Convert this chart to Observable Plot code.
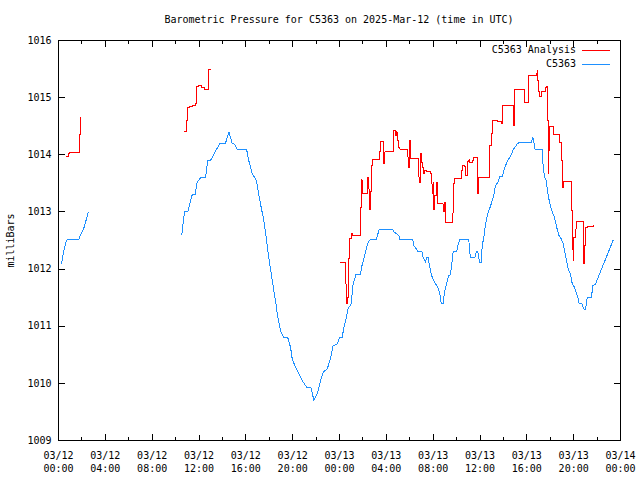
<!DOCTYPE html>
<html><head><meta charset="utf-8">
<script src="https://cdn.jsdelivr.net/npm/d3@7"></script>
<script src="https://cdn.jsdelivr.net/npm/@observablehq/plot@0.6"></script>
<style>
body{margin:0;background:#fff;}
#wrap{position:relative;width:640px;height:480px;font-family:"DejaVu Sans Mono",monospace;font-size:10px;color:#000;}
#title{position:absolute;left:58px;width:562px;top:14px;line-height:12px;text-align:center;white-space:pre;}
.leg{position:absolute;right:30px;height:12px;line-height:12px;display:flex;align-items:center;white-space:pre;}
.leg .sw{display:inline-block;width:28px;height:1px;margin-left:6px;}
svg{position:absolute;left:0;top:0;}
</style></head>
<body><div id="wrap"><div id="title"></div></div>
<script>
const titleText = "Barometric Pressure for C5363 on 2025-Mar-12 (time in UTC)";
const yLabel = "milliBars";
const seriesNames = ["C5363 Analysis", "C5363"];
const seriesColors = ["#ff0000", "#1e90ff"];
const xMajorTicks = [0,4,8,12,16,20,24,28,32,36,40,44,48];
const xMinorTicks = [2,6,10,14,18,22,26,30,34,38,42,46];
const xTickLabels = ["03/12\n00:00","03/12\n04:00","03/12\n08:00","03/12\n12:00","03/12\n16:00","03/12\n20:00","03/13\n00:00","03/13\n04:00","03/13\n08:00","03/13\n12:00","03/13\n16:00","03/13\n20:00","03/14\n00:00"];
const yTicks = [1009,1010,1011,1012,1013,1014,1015,1016];

// hours since 03/12 00:00 UTC, millibars
const stationSeg1 = [[0.26,1012.1],[0.43,1012.3],[0.6,1012.45],[0.77,1012.52],[1.73,1012.52],[1.88,1012.6],[2.14,1012.7],[2.35,1012.85],[2.54,1013.0]];
const stationSeg2 = [[10.53,1012.6],[10.76,1013.0],[11.04,1013.0],[11.42,1013.3],[11.70,1013.3],[11.79,1013.5],[12.13,1013.6],[12.56,1013.6],[12.75,1013.9],[12.98,1013.9],[13.78,1014.2],[14.26,1014.2],[14.55,1014.4],[14.84,1014.2],[15.06,1014.18],[15.26,1014.1],[16.06,1014.1],[16.25,1013.9],[16.54,1013.67],[16.91,1013.55],[17.11,1013.3],[17.31,1013.08],[17.54,1012.85],[17.74,1012.56],[17.91,1012.27],[18.11,1012.0],[18.30,1011.74],[18.53,1011.45],[18.73,1011.16],[18.96,1010.92],[19.24,1010.8],[19.58,1010.8],[19.82,1010.63],[19.96,1010.43],[20.24,1010.28],[20.52,1010.17],[20.81,1010.05],[21.24,1009.92],[21.58,1009.92],[21.81,1009.7],[22.10,1009.82],[22.38,1010.05],[22.61,1010.2],[22.95,1010.25],[23.23,1010.43],[23.46,1010.66],[23.80,1010.69],[24.0,1010.8],[24.23,1010.8],[24.37,1010.98],[24.60,1011.16],[24.71,1011.3],[25.0,1011.39],[25.14,1011.71],[25.39,1011.9],[25.79,1011.9],[25.88,1012.03],[26.08,1012.18],[26.31,1012.38],[26.45,1012.47],[26.65,1012.52],[27.16,1012.52],[27.39,1012.7],[28.55,1012.7],[28.64,1012.65],[29.07,1012.59],[29.15,1012.52],[30.26,1012.52],[30.35,1012.41],[30.58,1012.35],[30.69,1012.3],[31.06,1012.3],[31.15,1012.2],[31.35,1012.12],[31.43,1012.2],[31.58,1012.2],[31.71,1012.03],[31.86,1011.89],[32.11,1011.77],[32.34,1011.7],[32.54,1011.6],[32.69,1011.4],[32.86,1011.4],[32.97,1011.6],[33.2,1011.79],[33.34,1011.89],[33.48,1011.9],[33.71,1012.3],[34.0,1012.3],[34.10,1012.41],[34.28,1012.52],[35.04,1012.52],[35.13,1012.3],[35.19,1012.2],[35.56,1012.2],[35.68,1012.3],[35.81,1012.3],[35.90,1012.2],[35.98,1012.11],[36.10,1012.11],[36.19,1012.41],[36.33,1012.56],[36.41,1012.7],[36.56,1012.87],[36.70,1013.0],[36.90,1013.1],[37.04,1013.2],[37.18,1013.3],[37.32,1013.46],[37.52,1013.52],[37.69,1013.62],[37.90,1013.62],[38.03,1013.72],[38.18,1013.81],[38.38,1013.9],[38.67,1014.0],[38.84,1014.09],[38.95,1014.12],[39.18,1014.19],[39.37,1014.22],[40.40,1014.22],[40.51,1014.31],[40.60,1014.22],[40.68,1014.1],[41.30,1014.1],[41.36,1013.87],[41.51,1013.61],[41.66,1013.55],[41.74,1013.4],[41.88,1013.23],[42.02,1013.11],[42.17,1013.0],[42.30,1012.94],[42.45,1012.82],[42.59,1012.7],[42.73,1012.59],[42.94,1012.53],[43.11,1012.44],[43.24,1012.3],[43.39,1012.15],[43.53,1012.0],[43.73,1011.92],[43.88,1011.74],[44.07,1011.68],[44.24,1011.57],[44.39,1011.48],[44.47,1011.39],[44.73,1011.39],[44.86,1011.3],[45.01,1011.3],[45.16,1011.5],[45.52,1011.5],[45.63,1011.71],[45.87,1011.74],[47.38,1012.51]];

const analysisSeg1 = [[0.68,1013.97],[0.83,1014.03],[0.97,1014.04],[1.82,1014.35],[1.90,1014.65]];
const analysisSeg2 = [[10.79,1014.41],[10.91,1014.6],[10.99,1014.82],[11.19,1014.85],[11.42,1014.87],[11.70,1014.89],[11.79,1015.19],[11.99,1015.21],[12.21,1015.18],[12.47,1015.15],[12.70,1015.14],[12.79,1015.29],[12.84,1015.49],[12.98,1015.5]];
const analysisSeg3 = [[24.09,1012.11],[24.54,1011.74],[24.57,1011.39],[24.68,1011.5],[24.77,1012.18],[24.85,1012.53],[25.0,1012.63],[25.14,1012.59],[25.79,1013.07],[25.85,1013.56],[25.94,1013.46],[25.97,1013.33],[26.42,1013.61],[26.50,1013.4],[26.59,1013.04],[26.65,1013.35],[26.73,1013.81],[26.85,1013.92],[27.44,1014.06],[27.50,1014.23],[27.73,1014.03],[27.78,1013.84],[27.87,1014.05],[28.64,1014.42],[28.78,1014.34],[28.87,1014.4],[28.93,1014.25],[29.01,1014.12],[29.15,1014.1],[29.36,1014.09],[29.83,1013.96],[29.92,1013.78],[30.01,1014.25],[30.06,1013.93],[30.77,1013.61],[30.86,1013.52],[30.92,1014.03],[31.0,1013.87],[31.06,1013.78],[31.15,1013.67],[31.29,1013.72],[31.41,1013.7],[31.77,1013.68],[31.83,1013.49],[31.92,1013.33],[32.0,1013.52],[32.06,1013.04],[32.14,1013.29],[32.29,1013.52],[32.34,1013.14],[32.86,1013.02],[32.91,1013.0],[32.97,1013.17],[33.03,1012.82],[33.63,1012.98],[33.71,1013.49],[33.85,1013.58],[34.42,1013.72],[34.53,1013.81],[34.68,1013.8],[34.76,1013.64],[34.91,1013.89],[35.04,1013.91],[35.13,1013.87],[35.33,1013.9],[35.42,1013.95],[35.81,1013.32],[35.90,1013.61],[36.84,1014.16],[36.96,1014.37],[37.04,1014.6],[37.47,1014.58],[37.84,1014.54],[37.95,1014.86],[38.84,1014.72],[38.89,1014.51],[38.95,1015.15],[39.80,1014.92],[40.17,1015.39],[40.83,1015.42],[40.89,1015.47],[40.94,1015.3],[41.02,1015.1],[41.11,1015.02],[41.23,1015.1],[41.40,1015.11],[41.60,1015.18],[41.68,1015.19],[41.74,1014.6],[41.83,1013.67],[41.88,1014.07],[41.96,1014.5],[42.25,1014.35],[42.82,1014.22],[42.94,1013.9],[43.02,1013.55],[43.07,1013.42],[43.16,1013.53],[43.79,1013.02],[43.88,1012.35],[43.97,1012.15],[44.01,1012.56],[44.16,1012.7],[44.22,1012.83],[44.82,1012.27],[44.87,1012.09],[44.92,1012.41],[45.01,1012.73],[45.16,1012.74],[45.72,1012.76]];

const stationSegments = [stationSeg1, stationSeg2];
const analysisSegments = [analysisSeg1, analysisSeg2, analysisSeg3];

const toRows = (segs) => segs.flatMap((s, k) => s.map(([h, v]) => ({h, v, seg: k})));
const stationRows = toRows(stationSegments);
const analysisRows = toRows(analysisSegments);

const tickShape = {draw(ctx, l) { ctx.moveTo(0, 0); ctx.lineTo(0, -l); }};
const tickOpts = {shape: tickShape, anchor: "start", stroke: "black", strokeWidth: 1};

const chart = Plot.plot({
  width: 640, height: 480,
  marginLeft: 58, marginRight: 20, marginTop: 40, marginBottom: 40,
  style: {fontFamily: "'DejaVu Sans Mono', monospace", fontSize: "10px", background: "transparent", color: "black", overflow: "visible"},
  x: {domain: [0, 48]},
  y: {domain: [1009, 1016]},
  marks: [
    Plot.vector(xMajorTicks, {...tickOpts, x: d => d, frameAnchor: "bottom", length: 6, rotate: 0}),
    Plot.vector(xMinorTicks, {...tickOpts, x: d => d, frameAnchor: "bottom", length: 3, rotate: 0}),
    Plot.vector(xMajorTicks, {...tickOpts, x: d => d, frameAnchor: "top", length: 6, rotate: 180}),
    Plot.vector(xMinorTicks, {...tickOpts, x: d => d, frameAnchor: "top", length: 3, rotate: 180}),
    Plot.vector(yTicks, {...tickOpts, y: d => d, frameAnchor: "left", length: 6, rotate: 90}),
    Plot.vector(yTicks, {...tickOpts, y: d => d, frameAnchor: "right", length: 6, rotate: -90}),
    Plot.line(stationRows, {x: "h", y: "v", z: "seg", stroke: seriesColors[1], strokeWidth: 1, curve: "linear"}),
    Plot.line(analysisRows, {x: "h", y: "v", z: "seg", stroke: seriesColors[0], strokeWidth: 1, curve: "step-after"}),
    Plot.axisX({ticks: xMajorTicks, tickFormat: d => xTickLabels[xMajorTicks.indexOf(d)], tickSize: 0, tickPadding: 9, lineHeight: 1.3, label: null}),
    Plot.axisY({ticks: yTicks, tickFormat: d => String(d), tickSize: 0, tickPadding: 7, label: yLabel, labelAnchor: "center", labelOffset: 52, labelArrow: "none"}),
    Plot.frame({stroke: "black", strokeWidth: 1})
  ]
});
chart.querySelectorAll("path").forEach(p => p.setAttribute("shape-rendering", "crispEdges"));
const wrap = document.getElementById("wrap");
wrap.appendChild(chart);
document.getElementById("title").textContent = titleText;
seriesNames.forEach((name, i) => {
  const row = document.createElement("div");
  row.className = "leg";
  row.style.top = (44 + 14 * i) + "px";
  const t = document.createElement("span");
  t.textContent = name;
  const sw = document.createElement("span");
  sw.className = "sw";
  sw.style.background = seriesColors[i];
  row.appendChild(t); row.appendChild(sw);
  wrap.appendChild(row);
});
</script>
</body></html>
